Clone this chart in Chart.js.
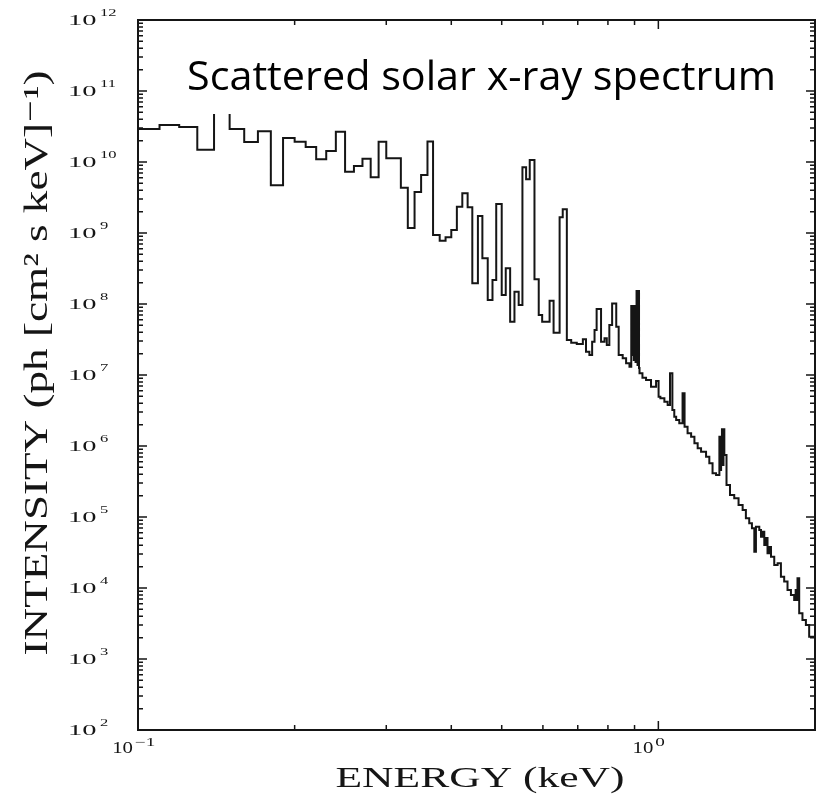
<!DOCTYPE html>
<html>
<head>
<meta charset="utf-8">
<script src="https://cdn.jsdelivr.net/npm/chart.js@4.4.1/dist/chart.umd.min.js"></script>
<style>
  html, body { margin: 0; padding: 0; background: #fff; }
  #wrap { width: 821px; height: 799px; }
</style>
</head>
<body>
<div id="wrap"><canvas id="spectrumChart" width="821" height="799"></canvas></div>
<script>
// lower bin edges in keV; the last entry closes the final bin
const binEdges = [
  0.100, 0.110, 0.120, 0.130, 0.140, 0.150, 0.160, 0.170, 0.180, 0.190,
  0.200, 0.210, 0.220, 0.230, 0.240, 0.250, 0.260, 0.270, 0.280, 0.290,
  0.300, 0.320, 0.330, 0.340, 0.350, 0.360, 0.369, 0.380, 0.390, 0.400,
  0.410, 0.420, 0.430, 0.439, 0.450, 0.459, 0.470, 0.480, 0.488, 0.500,
  0.509, 0.519, 0.529, 0.539, 0.548, 0.557, 0.566, 0.578, 0.589, 0.598,
  0.618, 0.629, 0.646, 0.655, 0.667, 0.680, 0.697, 0.716, 0.726, 0.737,
  0.746, 0.754, 0.761, 0.776, 0.788, 0.796, 0.805, 0.815, 0.830, 0.839,
  0.854, 0.867, 0.880, 0.887, 0.891, 0.894, 0.897, 0.900, 0.904, 0.908,
  0.912, 0.915, 0.918, 0.920, 0.932, 0.947, 0.968, 0.990, 1.001, 1.009,
  1.027, 1.042, 1.053, 1.064, 1.073, 1.082, 1.097, 1.113, 1.123, 1.138,
  1.156, 1.173, 1.190, 1.208, 1.235, 1.253, 1.271, 1.291, 1.310, 1.315,
  1.320, 1.325, 1.330, 1.334, 1.339, 1.352, 1.373, 1.399, 1.426, 1.452,
  1.473, 1.495, 1.513, 1.529, 1.540, 1.563, 1.575, 1.586, 1.598, 1.610,
  1.621, 1.634, 1.646, 1.670, 1.695, 1.720, 1.745, 1.771, 1.798, 1.824,
  1.836, 1.844, 1.851, 1.865, 1.892, 1.921, 1.949, 2.000
];

// photons per cm^2 per s per keV in each bin
const intensity = [
  2.92e10, 3.32e10, 3.11e10, 1.49e10, 8.0e10, 2.92e10, 1.91e10, 2.71e10, 4.70e9, 2.18e10,
  1.93e10, 1.63e10, 1.09e10, 1.43e10, 2.67e10, 7.30e9, 8.78e9, 1.11e10, 6.09e9, 1.93e10,
  1.13e10, 4.35e9, 1.18e9, 3.78e9, 6.56e9, 1.94e10, 9.37e8, 7.79e8, 8.70e8, 1.10e9,
  2.35e9, 3.62e9, 2.30e9, 1.96e8, 1.74e9, 4.40e8, 1.14e8, 2.18e8, 2.56e9, 1.34e8,
  3.18e8, 5.63e7, 1.49e8, 9.68e7, 8.42e9, 5.71e9, 1.07e10, 2.23e8, 7.00e7, 5.63e7,
  1.11e8, 3.94e7, 1.66e9, 2.16e9, 3.11e7, 2.85e7, 2.73e7, 3.18e7, 2.13e7, 1.91e7,
  2.94e7, 4.30e7, 8.50e7, 2.94e7, 3.29e7, 2.65e7, 5.06e7, 1.02e8, 4.79e7, 1.91e7,
  1.72e7, 1.46e7, 1.31e7, 9.37e7, 1.91e7, 9.37e7, 1.63e7, 9.37e7, 1.52e7, 1.52e8,
  1.38e7, 1.52e8, 1.25e7, 1.06e7, 9.16e6, 8.50e6, 6.84e6, 8.20e6, 4.95e6, 4.70e6,
  4.21e6, 3.78e6, 1.06e7, 3.21e6, 2.59e6, 2.32e6, 2.09e6, 5.53e6, 1.87e6, 1.51e6,
  1.35e6, 1.09e6, 9.28e5, 8.31e5, 7.07e5, 5.71e5, 4.13e5, 3.90e5, 1.35e6, 4.59e5,
  1.35e6, 1.72e6, 5.40e5, 1.72e6, 7.47e5, 2.82e5, 2.04e5, 1.83e5, 1.48e5, 1.25e5,
  9.59e4, 8.15e4, 6.93e4, 3.25e4, 7.30e4, 6.56e4, 5.28e4, 6.20e4, 4.03e4, 5.06e4,
  3.08e4, 3.78e4, 2.76e4, 2.11e4, 2.23e4, 1.44e4, 1.23e4, 9.37e3, 7.97e3, 6.78e3,
  9.37e3, 6.78e3, 1.37e4, 4.40e3, 3.54e3, 3.01e3, 2.06e3
];

const xTickMarks = [0.1, 0.2, 0.3, 0.4, 0.5, 0.6, 0.7, 0.8, 0.9, 1, 2];
const xLabelValues = [0.1, 1];
const xLabelExps = ['\u22121', '0'];
const yLabelExps = [2, 3, 4, 5, 6, 7, 8, 9, 10, 11, 12];

const ink = '#151515';
const serif = "'Liberation Serif', 'DejaVu Serif', serif";

// the step line: each point carries its bin value until the next edge
const points = binEdges.map((e, i) => ({ x: e, y: intensity[Math.min(i, intensity.length - 1)] }));

function fitted(ctx, text, x, y, width, align) {
  const w = ctx.measureText(text).width;
  ctx.save();
  ctx.translate(x, y);
  ctx.scale(width / w, 1);
  ctx.textAlign = align;
  ctx.fillText(text, 0, 0);
  ctx.restore();
}

function stretched(ctx, text, x, y, sx, align) {
  ctx.save();
  ctx.translate(x, y);
  ctx.scale(sx, 1);
  ctx.textAlign = align;
  ctx.fillText(text, 0, 0);
  ctx.restore();
}

const decoration = {
  id: 'decoration',
  afterDatasetsDraw(chart) {
    const { ctx, chartArea: a, scales: { x, y } } = chart;
    ctx.save();
    ctx.strokeStyle = ink;

    // inward ticks on all four sides
    ctx.lineWidth = 1.5;
    ctx.beginPath();
    for (let d = 2; d < 12; d++) {
      for (let k = 1; k <= 9; k++) {
        const py = y.getPixelForValue(k * Math.pow(10, d));
        const len = k === 1 ? 9 : 5;
        ctx.moveTo(a.left, py); ctx.lineTo(a.left + len, py);
        ctx.moveTo(a.right, py); ctx.lineTo(a.right - len, py);
      }
    }
    xTickMarks.forEach(v => {
      const px = x.getPixelForValue(v);
      const len = xLabelValues.includes(v) ? 9 : 5;
      ctx.moveTo(px, a.bottom); ctx.lineTo(px, a.bottom - len);
      ctx.moveTo(px, a.top); ctx.lineTo(px, a.top + len);
    });
    ctx.stroke();

    ctx.lineWidth = 2;
    ctx.strokeRect(a.left, a.top, a.right - a.left, a.bottom - a.top);

    // title panel laid over the plot
    ctx.fillStyle = '#fff';
    ctx.fillRect(178, 32, 612, 82);
    ctx.fillStyle = '#000';
    ctx.font = "40px 'Open Sans', 'Noto Sans', sans-serif";
    ctx.textBaseline = 'alphabetic';
    fitted(ctx, 'Scattered solar x-ray spectrum', 187, 90, 589, 'left');

    // tick labels
    ctx.fillStyle = ink;
    yLabelExps.forEach(e => {
      const py = y.getPixelForValue(Math.pow(10, e));
      ctx.font = '15px ' + serif;
      stretched(ctx, '10', 68, py + 5, 1.9, 'left');
      ctx.font = '11px ' + serif;
      stretched(ctx, String(e), 100, py - 4, 1.5, 'left');
    });
    xLabelValues.forEach((v, i) => {
      const px = x.getPixelForValue(v);
      ctx.font = '16px ' + serif;
      stretched(ctx, '10', px - 5, a.bottom + 23, 1.3, 'right');
      ctx.font = '12px ' + serif;
      stretched(ctx, xLabelExps[i], px - 3, a.bottom + 16, 1.6, 'left');
    });

    // axis titles
    ctx.font = '30px ' + serif;
    fitted(ctx, 'ENERGY (keV)', 480, 787, 289, 'center');
    ctx.save();
    ctx.translate(47, 363);
    ctx.rotate(-Math.PI / 2);
    ctx.font = '33px ' + serif;
    fitted(ctx, 'INTENSITY (ph [cm\u00b2 s keV]\u207b\u00b9)', 0, 0, 585, 'center');
    ctx.restore();

    ctx.restore();
  }
};

new Chart(document.getElementById('spectrumChart').getContext('2d'), {
  type: 'line',
  data: {
    datasets: [{
      data: points,
      stepped: true,
      borderColor: ink,
      borderWidth: 2,
      pointRadius: 0,
      fill: false
    }]
  },
  options: {
    responsive: false,
    animation: false,
    layout: { padding: { left: 138, top: 20, right: 6, bottom: 69 } },
    scales: {
      x: { type: 'logarithmic', min: 0.1, max: 2.0, display: false },
      y: { type: 'logarithmic', min: 1e2, max: 1e12, display: false }
    },
    plugins: {
      legend: { display: false },
      tooltip: { enabled: false }
    }
  },
  plugins: [decoration]
});
</script>
</body>
</html>
